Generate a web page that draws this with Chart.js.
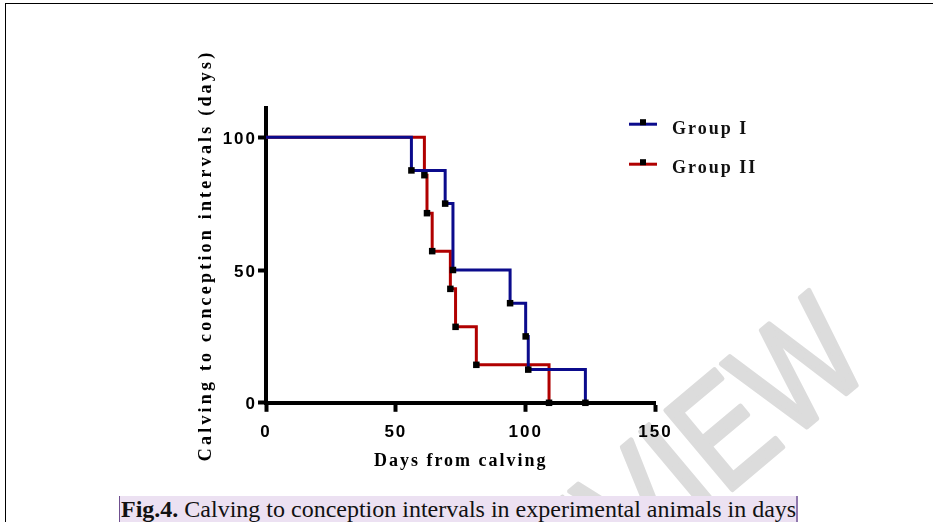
<!DOCTYPE html>
<html>
<head>
<meta charset="utf-8">
<script src="https://cdn.jsdelivr.net/npm/chart.js@4.4.1/dist/chart.umd.min.js"></script>
<style>
html,body{margin:0;padding:0;background:#fff;}
#wrap{position:relative;width:933px;height:522px;overflow:hidden;background:#fff;}
#c{position:absolute;left:0;top:0;}
#frame{position:absolute;left:5px;top:3px;width:940px;height:530px;border-top:1px solid #000;border-left:1px solid #000;pointer-events:none;}
#cap{position:absolute;left:119px;top:496px;width:675px;height:26px;background:#ece1f2;border-left:1px solid #6f4f8f;border-right:2px solid #8f78ad;padding-left:1px;font-family:"Liberation Serif","Times New Roman",serif;font-size:24px;line-height:26px;color:#111;white-space:nowrap;}
</style>
</head>
<body>
<div id="wrap">
  <canvas id="c" width="933" height="522"></canvas>
  <div id="frame"></div>
  <div id="cap"><b>Fig.4.</b> Calving to conception intervals in experimental animals in days</div>
</div>
<script>
// ---- data ----
const groupLabels = ['Group I', 'Group II'];
const groupIDays = [0, 56, 69, 72, 94, 100, 101, 123];
const groupIPct  = [100, 87.5, 75, 50, 37.5, 25, 12.5, 0];
const groupIIDays = [0, 61, 62, 64, 71, 73, 81, 109];
const groupIIPct  = [100, 85.7, 71.4, 57.1, 42.9, 28.6, 14.3, 0];
const xTickValues = [0, 50, 100, 150];
const yTickValues = [0, 50, 100];
const xTitle = 'Days from calving';
const yTitle = 'Calving to conception intervals (days)';
const watermarkText = 'PREVIEW';

// ---- styles ----
const colors = ['#0b0b8c', '#b00000'];
const sansBold = {family: '"Liberation Sans", Arial, sans-serif', size: 17, weight: 'bold'};
const serifBold = {family: '"Liberation Serif", "Times New Roman", serif', size: 18, weight: 'bold'};

function points(xs, ys) { return xs.map((x, i) => ({x: x, y: ys[i]})); }

function seriesStyle(color) {
  return {
    borderColor: color,
    backgroundColor: color,
    borderWidth: 3,
    stepped: true,
    fill: false,
    tension: 0,
    clip: false,
    pointStyle: 'rect',
    pointRadius: (c) => c.dataIndex === 0 ? 0 : 4.6,
    pointHoverRadius: (c) => c.dataIndex === 0 ? 0 : 4.6,
    pointBackgroundColor: '#000',
    pointBorderColor: '#000',
    pointBorderWidth: 0
  };
}

const decor = {
  id: 'decor',
  afterLayout(chart) {
    [['x', '2px'], ['y', '3.2px']].forEach(([id, sp]) => {
      const s = chart.scales[id];
      if (s && !s.__sp) {
        const orig = s.drawTitle;
        s.drawTitle = function () {
          const c = this.ctx; const prev = c.letterSpacing;
          c.letterSpacing = sp; orig.apply(this, arguments); c.letterSpacing = prev;
        };
        s.__sp = true;
      }
    });
  },
  beforeDraw(chart) {
    const ctx = chart.ctx;
    ctx.save();
    ctx.letterSpacing = '0px';
    ctx.fillStyle = '#dcdcdc';
    ctx.strokeStyle = '#dcdcdc';
    ctx.lineWidth = 5;
    ctx.lineJoin = 'round';
    ctx.font = '150px "Liberation Sans", Arial, sans-serif';
    ctx.translate(876, 369);
    ctx.rotate(-40 * Math.PI / 180);
    ctx.scale(0.82, 1);
    ctx.textAlign = 'right';
    ctx.textBaseline = 'alphabetic';
    ctx.fillText(watermarkText, 0, 0);
    ctx.strokeText(watermarkText, 0, 0);
    ctx.restore();
    ctx.letterSpacing = '2px';
  },
  afterDraw(chart) {
    const ctx = chart.ctx;
    chart.data.datasets.forEach((ds, i) => {
      const ly = 124.2 + 40 * i;
      ctx.save();
      ctx.strokeStyle = ds.borderColor;
      ctx.lineWidth = 3;
      ctx.beginPath();
      ctx.moveTo(629, ly);
      ctx.lineTo(657, ly);
      ctx.stroke();
      ctx.fillStyle = '#000';
      ctx.fillRect(640, ly - 5, 6, 6);
      ctx.letterSpacing = '2px';
      ctx.font = 'bold 18px "Liberation Serif", "Times New Roman", serif';
      ctx.fillStyle = '#111';
      ctx.textAlign = 'left';
      ctx.textBaseline = 'alphabetic';
      ctx.fillText(ds.label, 672, 133.5 + 39.5 * i);
      ctx.restore();
    });
  }
};

new Chart(document.getElementById('c'), {
  type: 'line',
  data: {
    datasets: [
      Object.assign({label: groupLabels[0], data: points(groupIDays, groupIPct)}, seriesStyle(colors[0])),
      Object.assign({label: groupLabels[1], data: points(groupIIDays, groupIIPct)}, seriesStyle(colors[1]))
    ]
  },
  options: {
    responsive: false,
    animation: false,
    devicePixelRatio: 1,
    layout: {padding: {left: 0, right: 277.5, top: 108, bottom: 0}},
    plugins: {legend: {display: false}, tooltip: {enabled: false}},
    scales: {
      x: {
        type: 'linear', min: 0, max: 150,
        afterBuildTicks: (s) => { s.ticks = xTickValues.map(v => ({value: v})); },
        afterFit: (s) => { s.height = 119.2; },
        grid: {display: true, drawOnChartArea: false, drawTicks: true, tickLength: 9, tickWidth: 4, tickColor: '#000'},
        border: {display: true, color: '#000', width: 4},
        ticks: {color: '#000', font: sansBold, padding: 10, maxRotation: 0, autoSkip: false},
        title: {display: true, text: xTitle, color: '#000', font: serifBold, padding: {top: 0, bottom: 49.6}}
      },
      y: {
        type: 'linear', min: 0, max: 111,
        afterBuildTicks: (s) => { s.ticks = yTickValues.map(v => ({value: v})); },
        afterFit: (s) => { s.width = 266; },
        grid: {display: true, drawOnChartArea: false, drawTicks: true, tickLength: 8, tickWidth: 4, tickColor: '#000'},
        border: {display: true, color: '#000', width: 4},
        ticks: {color: '#000', font: sansBold, padding: 1, labelOffset: 2, autoSkip: false},
        title: {display: true, text: yTitle, color: '#000', font: serifBold, padding: {top: 195.8, bottom: 0}}
      }
    }
  },
  plugins: [decor]
});
</script>
</body>
</html>
